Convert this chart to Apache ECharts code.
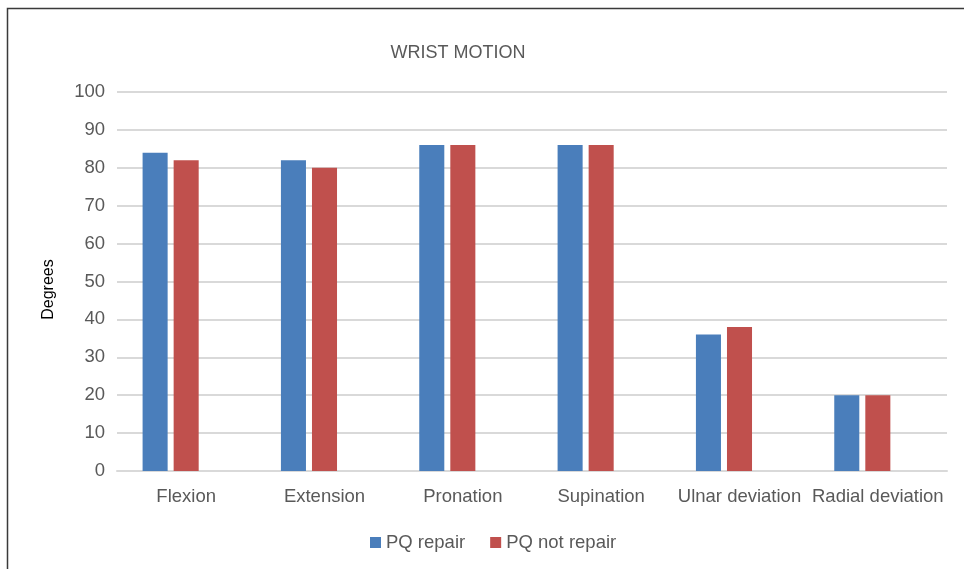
<!DOCTYPE html>
<html><head><meta charset="utf-8">
<script src="https://cdn.jsdelivr.net/npm/echarts@6/dist/echarts.min.js"></script>
<style>html,body{margin:0;padding:0;background:#fff}#c{width:964px;height:569px}</style>
</head><body><div id="c"></div>
<script>
const categories = ['Flexion','Extension','Pronation','Supination','Ulnar deviation','Radial deviation'];
const pqRepair = [84, 82, 86, 86, 36, 20];
const pqNotRepair = [82, 80, 86, 86, 38, 20];
const seriesNames = ['PQ repair','PQ not repair'];
const chart = echarts.init(document.getElementById('c'));
const txt = '#595959';
const ff = 'Liberation Sans, Arial';
chart.setOption({
  animation:false,
  backgroundColor:'#fff',
  graphic:[{type:'rect',shape:{x:7.5,y:8.5,width:1000,height:600},style:{fill:'none',stroke:'#3a3a3a',lineWidth:1.5},silent:true}],
  title:{text:'WRIST MOTION',left:453,top:39,textAlign:'center',textStyle:{fontFamily:ff,fontSize:18,fontWeight:'normal',color:txt}},
  legend:{data:seriesNames,bottom:12,left:365,itemWidth:11,itemHeight:11,itemGap:25,icon:'rect',textStyle:{fontFamily:ff,fontSize:18.5,color:txt}},
  grid:{left:117,right:17,top:92,bottom:98,containLabel:false},
  xAxis:{type:'category',data:categories,axisTick:{show:false},axisLine:{lineStyle:{color:'#d9d9d9',width:2}},
    axisLabel:{fontFamily:ff,fontSize:18.5,color:txt,margin:16,interval:0}},
  yAxis:{type:'value',min:0,max:100,interval:10,name:'Degrees',nameLocation:'middle',nameGap:60,nameRotate:90,
    nameTextStyle:{fontFamily:ff,fontSize:16,color:'#000',padding:[0,16,0,0]},
    axisLine:{show:false},axisTick:{show:false},
    axisLabel:{fontFamily:ff,fontSize:18.5,color:txt,margin:12},
    splitLine:{lineStyle:{color:'#d9d9d9',width:2}}},
  series:[
    {name:seriesNames[0],type:'bar',data:pqRepair,itemStyle:{color:'#4a7ebb'},barGap:'24%',barCategoryGap:'37%'},
    {name:seriesNames[1],type:'bar',data:pqNotRepair,itemStyle:{color:'#c0504d'}},
    {name:'_',type:'bar',data:[]}
  ]
});
</script></body></html>
